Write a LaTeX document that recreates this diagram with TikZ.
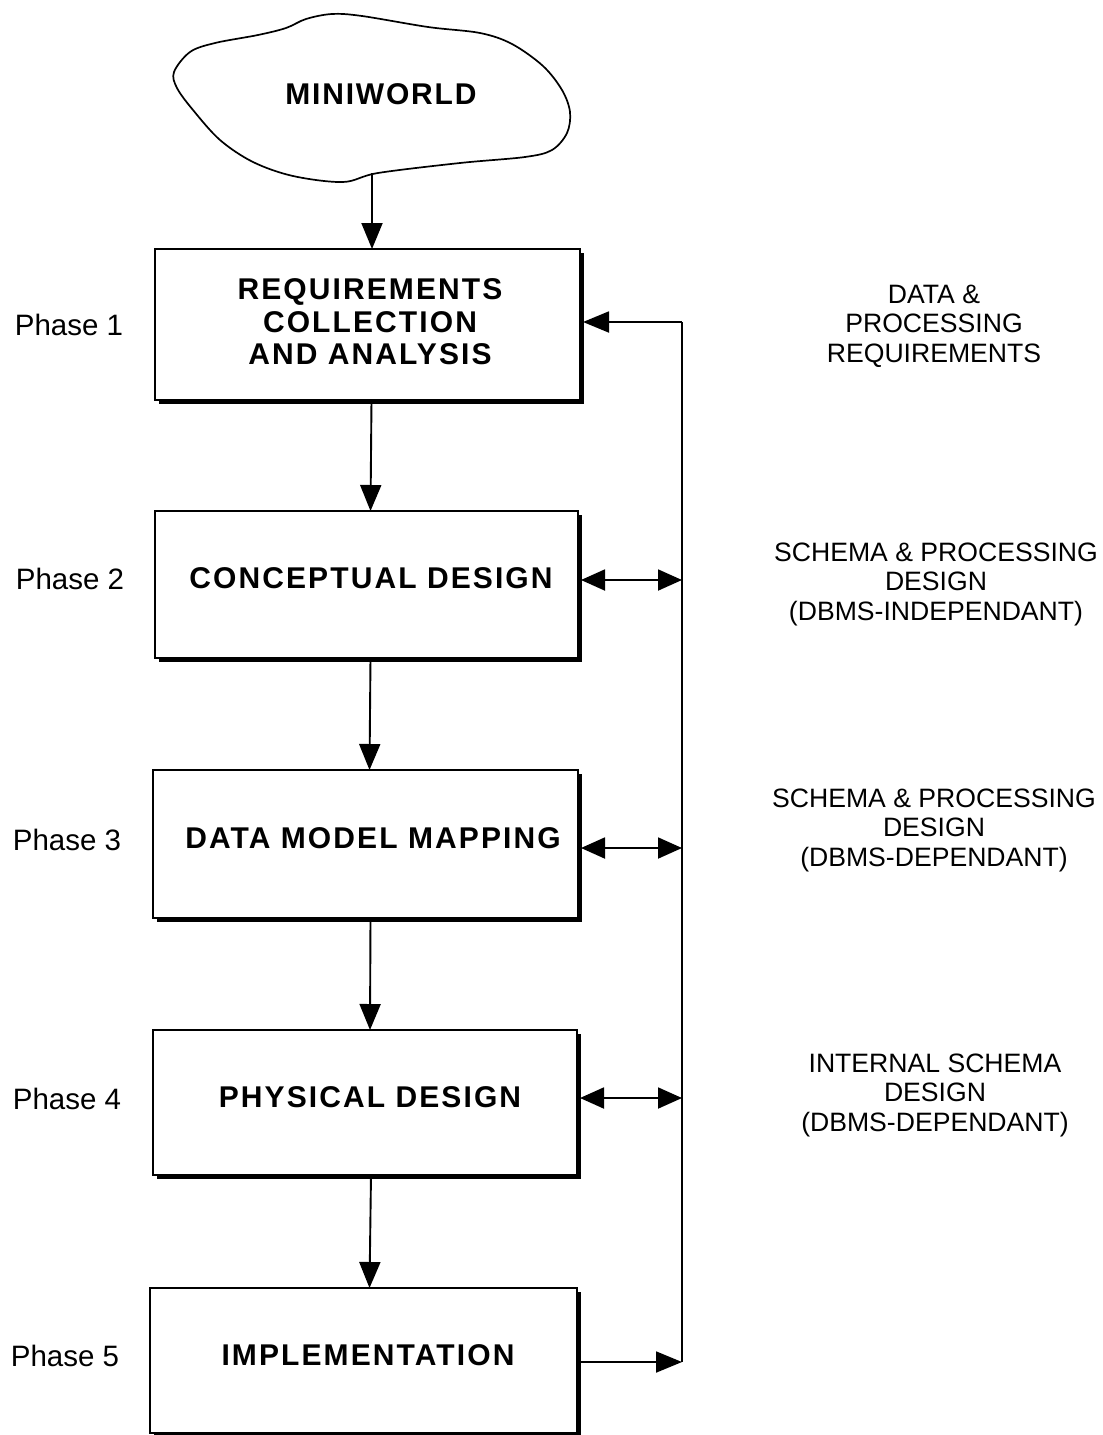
\documentclass[tikz,border=0pt]{standalone}
\usepackage{fontspec}
\setmainfont{Liberation Sans}
\newfontfamily\boxfont[LetterSpace=7]{Liberation Sans}
\usetikzlibrary{arrows.meta}
\begin{document}
\begin{tikzpicture}[x=1pt,y=-1pt,
  phasebox/.style={draw, line width=1.7pt, inner sep=0pt, outer sep=0pt},
  boxtext/.style={align=center, inner sep=0pt,
    font=\boxfont\bfseries\fontsize{30}{32.5}\selectfont},
  phaselbl/.style={font=\fontsize{29.5}{34}\selectfont, inner sep=0pt},
  outlbl/.style={align=center, inner sep=0pt, font=\fontsize{26.6}{29.5}\selectfont},
  flow/.style={line width=1.9pt, -{Triangle[length=26pt,width=21pt]}},
  flowboth/.style={line width=1.9pt, {Triangle[length=24pt,width=21pt]}-{Triangle[length=24pt,width=21pt]}},
  shade/.style={line width=3.6pt}
]
\useasboundingbox (0,0) rectangle (1103,1435);

% cloud
\draw[line width=1.7pt] plot[smooth cycle, tension=0.55] coordinates {
 (174,72) (190,52) (215,43) (258,35) (286,28) (306,19) (332,14) (362,16)
 (428,27) (480,33) (512,44) (543,66) (562,90) (570,112) (567,133) (552,150)
 (525,157) (460,163) (378,173) (343,182) (293,176) (253,162) (220,140)
 (193,110) (177,88)};
\node[font=\boxfont\bfseries\addfontfeatures{LetterSpace=6}\fontsize{30}{32}\selectfont] (mw) at (381,94) {MINIWORLD};
\coordinate (cloudbot) at (372,173);

% boxes
\node[phasebox, minimum width=425pt, minimum height=151pt] (b1) at (367.5,324.5) {};
\node[phasebox, minimum width=423pt, minimum height=147pt] (b2) at (366.5,584.5) {};
\node[phasebox, minimum width=425pt, minimum height=148pt] (b3) at (365.5,844) {};
\node[phasebox, minimum width=424pt, minimum height=145pt] (b4) at (365,1102.5) {};
\node[phasebox, minimum width=427pt, minimum height=145pt] (b5) at (363.5,1360.5) {};

\node[boxtext] (t1) at (370,322) {REQUIREMENTS\\COLLECTION\\AND ANALYSIS};
\node[boxtext] (t2) at (371,578) {CONCEPTUAL DESIGN};
\node[boxtext] (t3) at (373,838) {DATA MODEL MAPPING};
\node[boxtext] (t4) at (370,1097) {PHYSICAL DESIGN};
\node[boxtext] (t5) at (368,1355) {IMPLEMENTATION};

% drop shadows
\foreach \b in {b1,b2,b3,b4,b5}{
  \draw[shade] ([shift={(1.8pt,-4pt)}]\b.north east) -- ([shift={(1.8pt,-1.8pt)}]\b.south east)
     -- ([shift={(4pt,-1.8pt)}]\b.south west);
}

% phase labels
\node[phaselbl] (p1) at (69,325) {Phase 1};
\node[phaselbl] (p2) at (70,579) {Phase 2};
\node[phaselbl] (p3) at (67,840) {Phase 3};
\node[phaselbl] (p4) at (67,1099) {Phase 4};
\node[phaselbl] (p5) at (65,1356) {Phase 5};

% output labels
\node[outlbl] (o1) at (934,326) {DATA \&\\PROCESSING\\REQUIREMENTS};
\node[outlbl] (o2) at (936,584) {SCHEMA \& PROCESSING\\DESIGN\\(DBMS-INDEPENDANT)};
\node[outlbl] (o3) at (934,830) {SCHEMA \& PROCESSING\\DESIGN\\(DBMS-DEPENDANT)};
\node[outlbl] (o4) at (935,1095) {INTERNAL SCHEMA\\DESIGN\\(DBMS-DEPENDANT)};

% downward flow
\draw[flow] (cloudbot) -- (cloudbot |- b1.north);
\draw[flow] ([xshift=4pt]b1.south) -- ([xshift=4pt]b2.north);
\draw[flow] ([xshift=4pt]b2.south) -- ([xshift=4pt]b3.north);
\draw[flow] ([xshift=5pt]b3.south) -- ([xshift=5pt]b4.north);
\draw[flow] ([xshift=6pt]b4.south) -- ([xshift=6pt]b5.north);

% feedback line
\coordinate (f1) at (682,322);
\coordinate (f2) at (682,580);
\coordinate (f3) at (682,848);
\coordinate (f4) at (682,1098);
\coordinate (f5) at (682,1362);
\draw[line width=1.9pt] (f1) -- (f5);
\draw[flow] (f1) -- ([xshift=3pt]b1.east |- f1);
\draw[flowboth] ([xshift=3pt]b2.east |- f2) -- (f2);
\draw[flowboth] ([xshift=3pt]b3.east |- f3) -- (f3);
\draw[flowboth] ([xshift=3pt]b4.east |- f4) -- (f4);
\draw[flow] ([xshift=3pt]b5.east |- f5) -- (f5);
\end{tikzpicture}
\end{document}
